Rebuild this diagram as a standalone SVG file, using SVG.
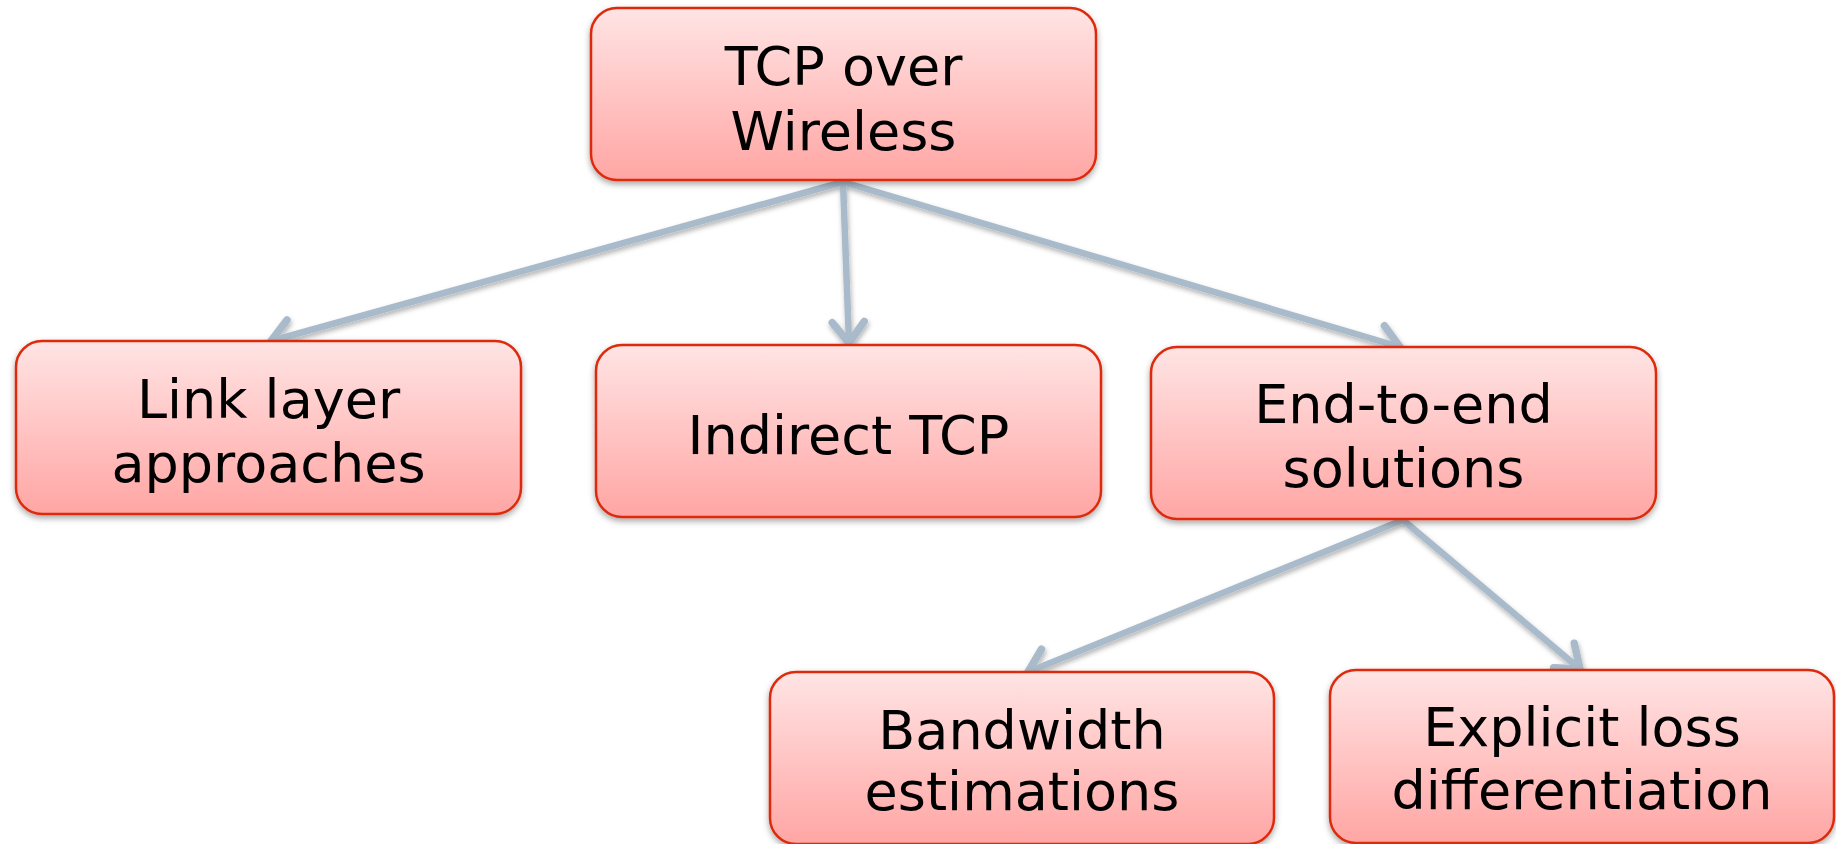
<svg xmlns="http://www.w3.org/2000/svg" width="1836" height="844" viewBox="0 0 1836 844">
<style>
.box{fill:url(#g);stroke:#DD2A0A;stroke-width:2.5;filter:url(#sh)}
.t{font-family:"DejaVu Sans","Verdana",sans-serif;font-size:54px;fill:#000;text-anchor:middle}
.c{fill:none;stroke:#A9BBCB;stroke-width:6.5;stroke-linecap:round;marker-end:url(#ah)}
</style>
<defs>
<linearGradient id="g" x1="0" y1="0" x2="0" y2="1">
<stop offset="0" stop-color="#FFE4E4"/>
<stop offset="1" stop-color="#FFA6A4"/>
</linearGradient>
<filter id="sh" x="-10%" y="-10%" width="120%" height="130%">
<feDropShadow dx="0" dy="3" stdDeviation="3" flood-color="#000" flood-opacity="0.35"/>
</filter>
<filter id="sh2" filterUnits="userSpaceOnUse" x="0" y="0" width="1836" height="844">
<feDropShadow dx="1" dy="3" stdDeviation="2.5" flood-color="#000" flood-opacity="0.3"/>
</filter>
<marker id="ah" markerUnits="userSpaceOnUse" markerWidth="50" markerHeight="50" viewBox="-35 -25 50 50" refX="0" refY="0" orient="auto">
<path d="M-21,-16 L0,0 L-21,16" fill="none" stroke="#A9BBCB" stroke-width="7.5" stroke-linecap="round" stroke-linejoin="round"/>
</marker>
</defs>
<g id="connectors" filter="url(#sh2)">
<path class="c" d="M843,182 L271,341"/>
<path class="c" d="M843,182 L849,343"/>
<path class="c" d="M843,182 L1400,347"/>
<path class="c" d="M1403,520 L1028,672"/>
<path class="c" d="M1403,520 L1580,669"/>
</g>
<g id="n-tcp">
<rect class="box" x="591" y="8" width="505" height="172" rx="26"/>
<text class="t" x="843.5" y="85">TCP over</text>
<text class="t" x="843.5" y="150">Wireless</text>
</g>
<g id="n-link">
<rect class="box" x="16" y="341" width="505" height="173" rx="26"/>
<text class="t" x="268.5" y="418">Link layer</text>
<text class="t" x="268.5" y="482">approaches</text>
</g>
<g id="n-indirect">
<rect class="box" x="596" y="345" width="505" height="172" rx="26"/>
<text class="t" x="848.5" y="454">Indirect TCP</text>
</g>
<g id="n-e2e">
<rect class="box" x="1151" y="347" width="505" height="172" rx="26"/>
<text class="t" x="1403.5" y="423">End-to-end</text>
<text class="t" x="1403.5" y="487">solutions</text>
</g>
<g id="n-bw">
<rect class="box" x="770" y="672" width="504" height="172" rx="26"/>
<text class="t" x="1022" y="749">Bandwidth</text>
<text class="t" x="1022" y="810">estimations</text>
</g>
<g id="n-eld">
<rect class="box" x="1330" y="670" width="504" height="173" rx="26"/>
<text class="t" x="1582" y="746">Explicit loss</text>
<text class="t" x="1582" y="809">differentiation</text>
</g>
</svg>
